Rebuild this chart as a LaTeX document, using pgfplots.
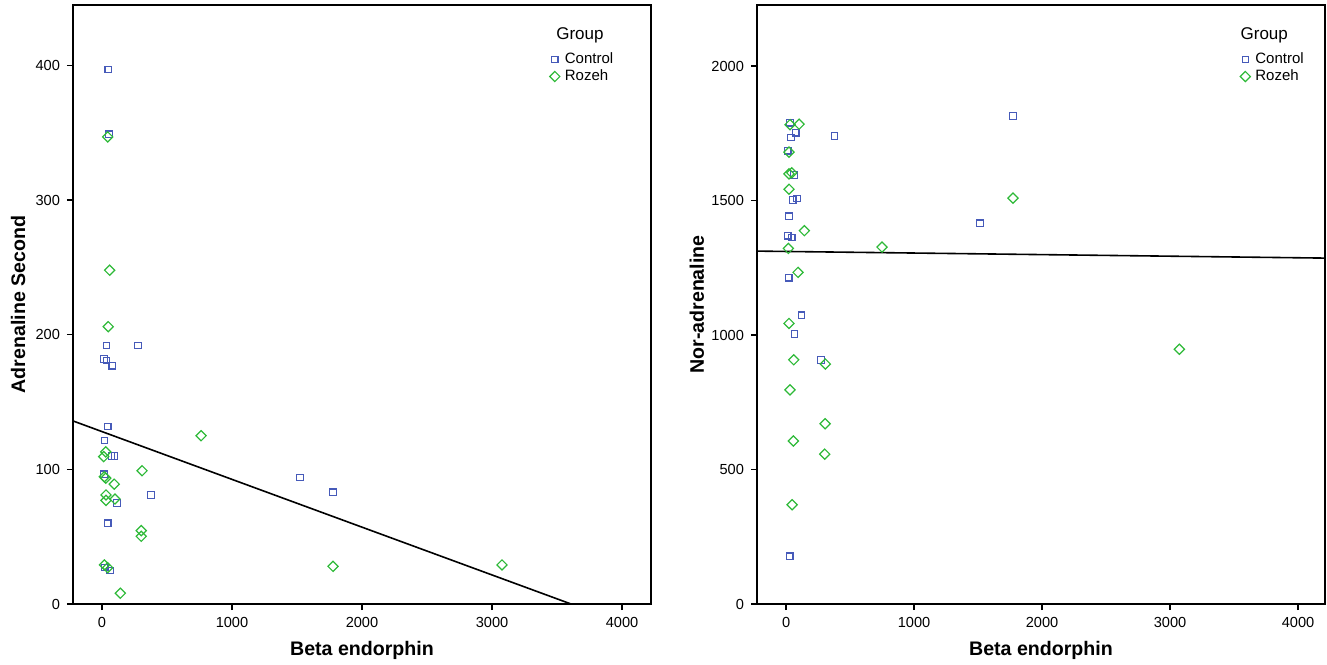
\documentclass[border=0pt]{standalone}
\usepackage{fontspec}
\setmainfont{Liberation Sans}
\usepackage{pgfplots}
\pgfplotsset{compat=1.18}
\definecolor{ctrl}{RGB}{70,90,185}
\definecolor{roz}{RGB}{45,185,55}

\pgfplotsset{
  spss/.style={
    scale only axis,
    height=299.5pt,
    ymin=0,
    axis line style={line width=0.7pt},
    tick align=outside,
    tick pos=left,
    major tick length=3pt,
    tick style={line width=0.7pt, black},
    xtick={0,1000,2000,3000,4000},
    tick label style={font=\fontsize{7.3}{8}\selectfont},
    /pgf/number format/assume math mode=true,
    /pgf/number format/1000 sep={},
    xlabel={Beta endorphin},
    every axis x label/.style={at={(axis description cs:0.5,-0.078)}, anchor=center,
      font=\bfseries\fontsize{9.8}{11}\selectfont},
    legend cell align=left,
    legend image code/.code={\draw[#1] plot coordinates {(0pt,0pt)};},
    ctrlmark/.style={only marks, mark=square, mark size=1.6pt, color=ctrl, mark options={line width=0.6pt}},
    rozmark/.style={only marks, mark=square, mark size=1.8pt, color=roz, mark options={line width=0.6pt, rotate=45}},
  }
}

\begin{document}
\begin{tikzpicture}
\useasboundingbox (0,0) rectangle (663.5pt,332pt);

% left panel
\begin{axis}[spss,
  at={(36.5pt,30pt)}, anchor=south west,
  width=289pt,
  xmin=-223, xmax=4223, ymax=445,
  ytick={0,100,200,300,400},
  ylabel={Adrenaline Second},
  every axis y label/.style={at={(axis description cs:-0.095,0.5)}, rotate=90, anchor=center,
    font=\bfseries\fontsize{9.8}{11}\selectfont},
  legend style={at={(axis description cs:0.824,0.923)}, anchor=north west, draw=none, fill=none,
    inner sep=0pt, column sep=2pt, row sep=0.5pt,
    font=\fontsize{7.5}{9}\selectfont,
    nodes={inner sep=0.5pt, text height=5.6pt, text depth=1.4pt}},
]
\addplot[ctrlmark] coordinates {
  (48,397) (54,349) (36,192) (277,192) (15,182) (36,181) (79,177)
  (44,132) (19,121.5) (72,110) (96,110) (15,96.5) (115,75) (377,81)
  (1523,94) (1777,83) (44,60) (21,27) (62,25)
};
\addplot[rozmark] coordinates {
  (44,347) (59,248) (48,206) (29,113) (13,109.5) (308,99) (18,94.5)
  (29,93.5) (94,89) (31,81) (31,77) (100,78) (302,54.5) (302,50.3)
  (19,29) (44,27) (141,8) (762,125) (1777,28) (3077,29)
};
\addplot[black, line width=0.8pt, forget plot] coordinates {(-223,136) (3608,0)};
\legend{Control,Rozeh}
\node[font=\fontsize{8.5}{10}\selectfont] at (axis description cs:0.877,0.950) {Group};
\end{axis}

% right panel
\begin{axis}[spss,
  at={(378.5pt,30pt)}, anchor=south west,
  width=284pt,
  xmin=-227, xmax=4211, ymax=2227,
  ytick={0,500,1000,1500,2000},
  ylabel={Nor-adrenaline},
  every axis y label/.style={at={(axis description cs:-0.106,0.5)}, rotate=90, anchor=center,
    font=\bfseries\fontsize{9.8}{11}\selectfont},
  legend style={at={(axis description cs:0.850,0.923)}, anchor=north west, draw=none, fill=none,
    inner sep=0pt, column sep=2pt, row sep=0.5pt,
    font=\fontsize{7.5}{9}\selectfont,
    nodes={inner sep=0.5pt, text height=5.6pt, text depth=1.4pt}},
]
\addplot[ctrlmark] coordinates {
  (31,1789) (76,1752) (39,1735) (377,1740) (13,1685) (62,1595) (52,1502)
  (86,1508) (23,1442) (13,1369) (45,1363) (21,1213) (120,1074) (65,1004)
  (273,907) (29,178) (1773,1814) (1516,1416)
};
\addplot[rozmark] coordinates {
  (31,1782) (102,1784) (23,1680) (23,1599) (45,1603) (23,1542) (143,1388)
  (18,1322) (94,1233) (23,1043) (60,908) (307,892) (31,796) (305,670)
  (57,606) (302,557) (47,369) (750,1327) (1773,1509) (3073,947)
};
\addplot[black, line width=0.8pt, forget plot] coordinates {(-227,1312) (4211,1286)};
\legend{Control,Rozeh}
\node[font=\fontsize{8.5}{10}\selectfont] at (axis description cs:0.893,0.950) {Group};
\end{axis}
\end{tikzpicture}
\end{document}
